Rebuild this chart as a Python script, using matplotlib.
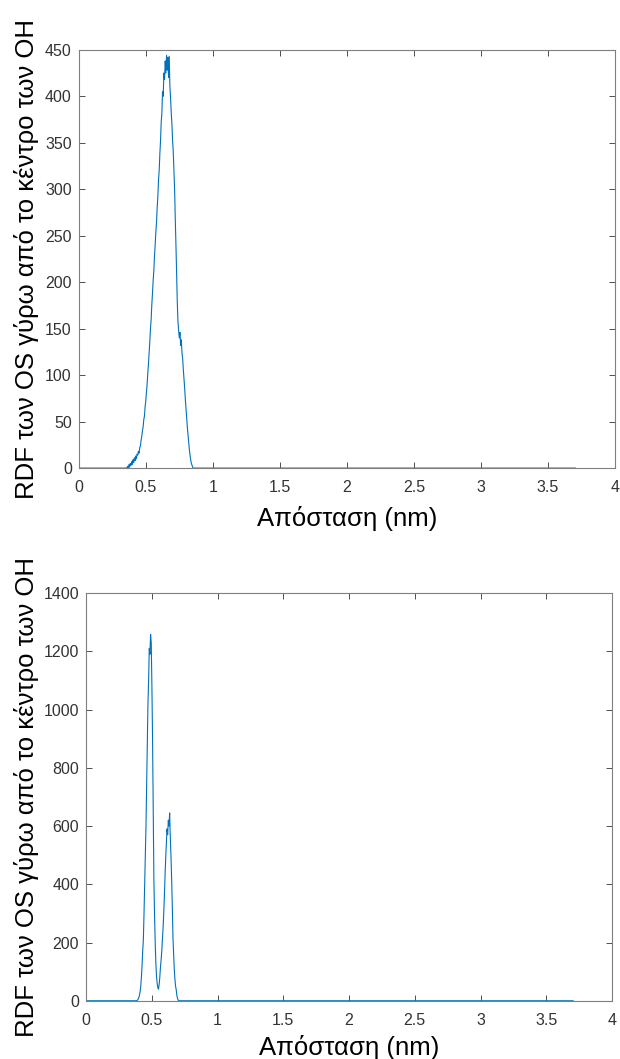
import numpy as np
import matplotlib
matplotlib.use("Agg")
import matplotlib.pyplot as plt

plt.rcParams['font.family'] = ['Liberation Sans', 'DejaVu Sans']

# RDF, first system: bins of 0.005 nm starting at 0.35 nm
g_top = [0, 0, 0, 2, 0, 4, 1, 5, 3, 7,
         4, 9, 6, 11, 8, 13, 10, 15, 14, 18,
         16, 22, 24, 30, 34, 40, 44, 52, 56, 66,
         72, 82, 90, 102, 112, 124, 136, 150, 160, 176,
         188, 202, 212, 228, 240, 254, 264, 280, 292, 310,
         320, 338, 352, 372, 382, 405, 400, 425, 418, 438,
         425, 444, 428, 442, 420, 443, 410, 398, 382, 370,
         352, 340, 320, 300, 268, 240, 210, 178, 158, 148,
         140, 146, 132, 138, 124, 118, 106, 96, 86, 74,
         64, 54, 44, 36, 28, 20, 14, 9, 5, 3,
         1, 0, 0, 0, 0]
r0_top = 0.35

# RDF, second system: bins of 0.005 nm starting at 0.38 nm
g_bot = [0, 0, 2, 5, 10, 18, 30, 48, 80, 120,
         170, 210, 300, 400, 500, 600, 740, 880, 1020, 1100,
         1210, 1190, 1258, 1230, 1080, 900, 660, 420, 300, 200,
         130, 85, 60, 45, 40, 55, 80, 115, 140, 170,
         210, 250, 300, 360, 430, 490, 540, 590, 570, 620,
         600, 645, 560, 500, 420, 330, 220, 165, 110, 75,
         50, 38, 18, 8, 2, 0, 0]
r0_bot = 0.38

dr = 0.005
r_max = 3.705

blue = '#0072BD'
grey = '#333333'


def full_curve(r0, g):
    r = r0 + dr * np.arange(len(g))
    r = np.concatenate([[0.0], r, [r_max]])
    y = np.concatenate([[0.0], g, [0.0]])
    return r, y


fig = plt.figure(figsize=(6.2, 10.59), dpi=100)
ax1 = fig.add_axes([0.127, 0.558, 0.865, 0.395])
ax2 = fig.add_axes([0.139, 0.055, 0.848, 0.385])

panels = [(ax1, r0_top, g_top, 450, 50, (-0.0746, -0.090)),
          (ax2, r0_bot, g_bot, 1400, 200, (-0.0894, -0.0833))]

for ax, r0, g, ymax, ystep, (ylx, xly) in panels:
    r, y = full_curve(r0, g)
    ax.plot(r, y, color=blue, linewidth=0.8)
    ax.set_xlim(0, 4)
    ax.set_ylim(0, ymax)
    ax.set_xticks(np.arange(0, 4.01, 0.5))
    ax.set_xticklabels(['0', '0.5', '1', '1.5', '2', '2.5', '3', '3.5', '4'])
    ax.set_yticks(np.arange(0, ymax + 1, ystep))
    ax.tick_params(direction='in', top=True, right=True, length=4,
                   width=0.6, colors=grey, labelsize=11.5)
    ax.tick_params(axis='x', pad=8.5)
    ax.tick_params(axis='y', pad=5)
    for s in ax.spines.values():
        s.set_color('#7f7f7f')
        s.set_linewidth(0.8)
    ax.set_xlabel('Απόσταση (nm)', fontsize=18.5, color='black')
    ax.set_ylabel('RDF των OS γύρω από το κέντρο των ΟΗ', fontsize=18.5,
                  color='black')
    ax.yaxis.set_label_coords(ylx, 0.5)
    ax.xaxis.set_label_coords(0.5, xly)

fig.savefig('out.png', dpi=100)
